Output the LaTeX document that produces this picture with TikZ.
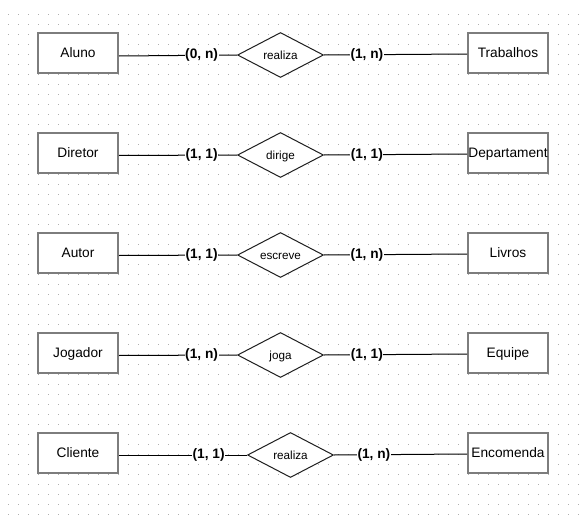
\documentclass[tikz,border=0pt]{standalone}
\usepackage{fontspec}
\setmainfont{Liberation Sans}
\usetikzlibrary{shapes.geometric}
\definecolor{boxgray}{RGB}{125,125,125}
\definecolor{reldark}{RGB}{30,30,30}
\definecolor{gridc}{RGB}{175,175,175}
\begin{document}
\begin{tikzpicture}[x=1pt,y=-1pt,
  ent/.style={draw=boxgray, line width=2pt, fill=white, minimum width=80pt, minimum height=40pt, inner sep=0pt, text height=12.8pt, text depth=3pt, font=\fontsize{13.7}{16}\selectfont},
  rel/.style={diamond, draw=reldark, line width=1pt, fill=white, minimum width=86pt, minimum height=45pt, aspect=1.93, inner sep=0pt, text height=11pt, text depth=2.6pt, font=\fontsize{11.7}{14}\selectfont},
  card/.style={fill=white, inner sep=0.6pt, font=\bfseries\fontsize{13.7}{16}\selectfont},
  conn/.style={draw=black, line width=1pt}]
\useasboundingbox (0,0) rectangle (582,522);
\fill[white] (0,0) rectangle (582,522);
% grid dots
\foreach \x in {8,18,...,578}{
  \foreach \y in {14,24,...,514}{
    \fill[gridc] (\x-0.5,\y-0.5) rectangle ++(1,1);
  }
}
% row 1
\node[ent] (a1) at (78,53) {Aluno};
\node[rel] (r1) at (280.5,55) {realiza};
\node[ent] (b1) at (508,53) {Trabalhos};
% row 2
\node[ent] (a2) at (78,153) {Diretor};
\node[rel] (r2) at (280.5,155) {dirige};
\node[ent] (b2) at (508,153) {Departament};
% row 3
\node[ent] (a3) at (78,253) {Autor};
\node[rel] (r3) at (280.5,255) {escreve};
\node[ent] (b3) at (508,253) {Livros};
% row 4
\node[ent] (a4) at (78,353) {Jogador};
\node[rel] (r4) at (280.5,355) {joga};
\node[ent] (b4) at (508,353) {Equipe};
% row 5
\node[ent] (a5) at (78,453) {Cliente};
\node[rel] (r5) at (290.5,455) {realiza};
\node[ent] (b5) at (508,453) {Encomenda};
% connectors
\draw[conn] ([yshift=-3pt]a1.east) -- node[card,pos=0.7]{(0, n)} (r1.west);
\draw[conn] (r1.east) -- node[card,pos=0.3]{(1, n)} ([yshift=-1pt]b1.west);
\draw[conn] ([yshift=-2.5pt]a2.east) -- node[card,pos=0.7]{(1, 1)} (r2.west);
\draw[conn] (r2.east) -- node[card,pos=0.3]{(1, 1)} ([yshift=-1pt]b2.west);
\draw[conn] ([yshift=-2.5pt]a3.east) -- node[card,pos=0.7]{(1, 1)} (r3.west);
\draw[conn] (r3.east) -- node[card,pos=0.3]{(1, n)} ([yshift=-1pt]b3.west);
\draw[conn] ([yshift=-2.5pt]a4.east) -- node[card,pos=0.7]{(1, n)} (r4.west);
\draw[conn] (r4.east) -- node[card,pos=0.3]{(1, 1)} ([yshift=-1pt]b4.west);
\draw[conn] ([yshift=-2pt]a5.east) -- node[card,pos=0.7]{(1, 1)} (r5.west);
\draw[conn] (r5.east) -- node[card,pos=0.3]{(1, n)} ([yshift=-1pt]b5.west);
\end{tikzpicture}
\end{document}
